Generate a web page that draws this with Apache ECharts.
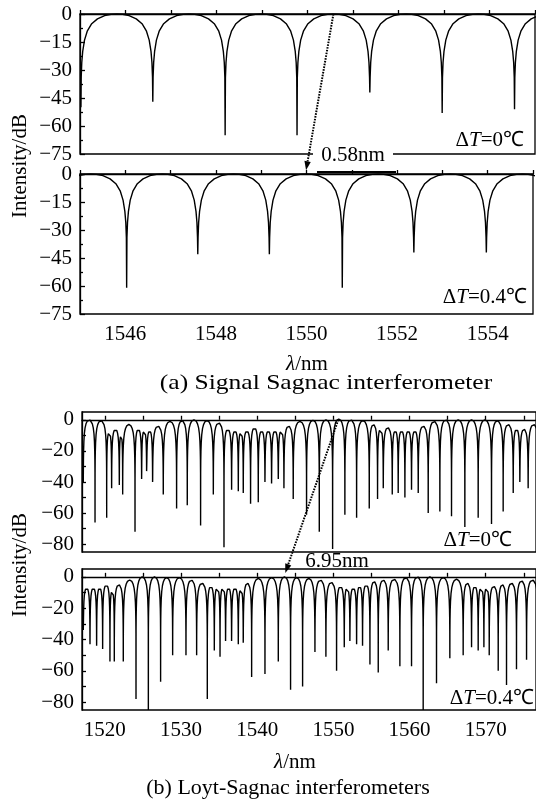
<!DOCTYPE html>
<html><head><meta charset="utf-8">
<script src="https://cdn.jsdelivr.net/npm/echarts@6/dist/echarts.min.js"></script>
<style>html,body{margin:0;padding:0;background:#fff}#c{width:536px;height:802px}</style>
</head><body><div id="c"></div><script>
// ---------- data ----------
// (a) single Sagnac, ΔT=0 : dip wavelengths (nm), dip depths (dB), lobe peak levels (dB)
const aTopDipNm = [1545.02, 1546.60, 1548.19, 1549.77, 1551.37, 1552.96, 1554.55, 1556.14];
const aTopDipDb = [-50, -47, -65, -65, -42, -53, -51, -45];
const aTopPeakDb = [0, 0, 0, 0, 0, 0, 0];
// (a) ΔT=0.4
const aBotDipNm = [1544.44, 1546.03, 1547.60, 1549.18, 1550.79, 1552.37, 1553.97, 1555.56];
const aBotDipDb = [-45, -61, -43, -43, -61, -42, -42, -45];
const aBotPeakDb = [0, 0, 0, 0, 0, 0, 0];
// (b) Lyot-Sagnac, ΔT=0
const bTopDipNm = [1517.17,1518.71,1520.24,1520.89,1521.90,1522.34,1523.96,1524.83,1525.49,1526.27,1527.67,1529.42,1530.82,1532.57,1534.24,1535.64,1536.64,1537.52,1538.17,1539.13,1540.14,1541.02,1541.89,1542.77,1543.51,1544.73,1546.48,1548.15,1549.90,1551.51,1553.05,1554.71,1555.80,1556.55,1557.73,1558.51,1559.39,1560.26,1561.14,1562.45,1563.98,1565.51,1567.26,1569.01,1570.76,1572.29,1573.61,1574.48,1575.57,1577.00];
const bTopDipDb = [-40,-66,-63,-44,-42,-48,-72,-38,-34,-40,-48,-57,-55,-68,-48,-82,-45,-46,-47,-54,-53,-40,-41,-38,-44,-51,-61,-72,-83,-61,-63,-57,-51,-44,-48,-47,-50,-45,-47,-60,-59,-62,-69,-63,-67,-59,-47,-41,-44,-45];
const bTopPeakDb = [0,-0.5,-8,-6,-10,-3,-6,-7,-7,-4,-1,-0.5,0,-0.5,-2,-6,-7,-8,-7,-5,-7,-7,-7,-7,-4,-1,-0.3,0,0.5,0,-0.5,-3,-6,-5,-7,-7,-7,-7,-4,-1,0,0,0,0,-0.5,-3,-6,-6,-3];
// (b) ΔT=0.4
const bBotDipNm = [1517.17,1518.05,1518.92,1519.71,1520.67,1521.24,1522.42,1524.09,1525.71,1527.32,1528.90,1530.65,1532.05,1533.45,1534.37,1535.12,1535.85,1536.64,1537.52,1538.17,1539.27,1541.02,1542.77,1544.38,1545.96,1547.58,1549.02,1550.42,1551.43,1552.17,1553.05,1553.83,1554.80,1555.89,1557.20,1558.73,1560.26,1561.79,1563.54,1565.29,1567.04,1568.14,1569.01,1569.76,1570.46,1571.64,1572.73,1574.04,1575.36,1576.90];
const bBotDipDb = [-34,-43,-44,-46,-54,-54,-54,-78,-85,-67,-50,-50,-50,-78,-47,-51,-42,-42,-43,-43,-64,-62,-54,-72,-70,-48,-51,-60,-45,-42,-43,-44,-56,-61,-47,-57,-57,-85,-68,-52,-50,-45,-47,-45,-50,-60,-69,-59,-53,-45];
const bBotPeakDb = [-7,-7,-7,-5,-9,-5,-2,0,0,-0.5,-0.5,-2,-4,-6,-7,-7,-7,-7,-8,-4,-1,-0.5,0,-0.5,-1,-2,-3.5,-6,-7,-7,-6,-5,-3,-2,-1.5,-0.5,0,0,-0.5,-1.5,-4,-6,-7,-7,-6,-5,-4,-2.5,-2];
// fringe flank shape: position as fraction of dip spacing, level below lobe peak (dB)
const flankFrac = [0.004, 0.012, 0.025, 0.05, 0.09, 0.15, 0.23, 0.33, 0.42, 0.5];
const flankDb   = [-34, -26, -20, -14, -9, -5.2, -2.6, -0.9, -0.2, 0];
// axis ticks
const aXLabels = [1546, 1548, 1550, 1552, 1554];
const bXTicks = [1520,1525,1530,1535,1540,1545,1550,1555,1560,1565,1570,1575];
const bXLabels = [1520,1530,1540,1550,1560,1570];
const bYTicks = [0,-10,-20,-30,-40,-50,-60,-70,-80];
const bYLabels = [0,-20,-40,-60,-80];
// annotations
const aShiftFrom = 1550.57, aShiftTo = 1549.99, aShiftText = '0.58nm';
const bShiftFrom = 1550.64, bShiftTo = 1543.69, bShiftText = '6.95nm';

// ---------- build ----------
function buildTrace(dipNm, dipDb, peakDb){
  const pts = [];
  const n = flankFrac.length;
  for (let i = 0; i < peakDb.length; i++){
    const a = dipNm[i], b = dipNm[i+1], w = b - a, p = peakDb[i];
    pts.push([a, dipDb[i]]);
    for (let k = 0; k < n; k++) pts.push([a + flankFrac[k]*w, Math.max(p + flankDb[k], dipDb[i])]);
    for (let k = n-2; k >= 0; k--) pts.push([b - flankFrac[k]*w, Math.max(p + flankDb[k], dipDb[i+1])]);
  }
  pts.push([dipNm[dipNm.length-1], dipDb[dipDb.length-1]]);
  return pts;
}
const FONT = '"Liberation Serif","Times New Roman",serif';
const FS = 21;
const minus = v => String(v).replace('-', '\u2212');
const lineStyleAx = {color:'#000', width:1.3};

function xAxisA(g, showLabel){
  return {type:'value', gridIndex:g, min:1545, max:1555, interval:1,
    axisLine:{lineStyle:lineStyleAx}, splitLine:{show:false},
    axisTick:{inside:true, length:4, lineStyle:lineStyleAx},
    axisLabel:{show:showLabel, margin:10, color:'#000', fontFamily:FONT, fontSize:FS,
      formatter: v => aXLabels.indexOf(v) >= 0 ? String(v) : ''}};
}
function yAxisA(g){
  return {type:'value', gridIndex:g, min:-75, max:0, interval:15,
    axisLine:{show:true, lineStyle:lineStyleAx}, splitLine:{show:false},
    axisTick:{inside:true, length:5, lineStyle:lineStyleAx},
    minorTick:{show:true, splitNumber:2, length:3, lineStyle:lineStyleAx},
    axisLabel:{margin:8, color:'#000', fontFamily:FONT, fontSize:FS, formatter: minus}};
}
function xAxisB(g, showLabel){
  return {type:'value', gridIndex:g, min:1517, max:1576.6,
    axisLine:{lineStyle:lineStyleAx}, splitLine:{show:false},
    axisTick:{inside:true, length:4, lineStyle:lineStyleAx, customValues:bXTicks},
    axisLabel:{show:showLabel, margin:10, color:'#000', fontFamily:FONT, fontSize:FS, customValues:bXLabels,
      formatter: v => String(v)}};
}
function yAxisB(g){
  return {type:'value', gridIndex:g, min:-85, max:5,
    axisLine:{show:true, lineStyle:lineStyleAx}, splitLine:{show:false},
    axisTick:{inside:true, length:4, lineStyle:lineStyleAx, customValues:bYTicks},
    axisLabel:{margin:8, color:'#000', fontFamily:FONT, fontSize:FS, customValues:bYLabels, formatter: minus}};
}
function ser(g, data){
  return {type:'line', xAxisIndex:g, yAxisIndex:g, data:data, showSymbol:false, symbol:'none',
    lineStyle:{color:'#000', width:1.4}, clip:true, animation:false, silent:true};
}
const gridStyle = {show:true, borderColor:'#000', borderWidth:1.3, backgroundColor:'transparent'};

const chart = echarts.init(document.getElementById('c'));
chart.setOption({
  animation:false,
  backgroundColor:'#fff',
  grid:[
    Object.assign({left:80, top:14, width:455, height:140}, gridStyle),
    Object.assign({left:80, top:174, width:455, height:140}, gridStyle),
    Object.assign({left:82, top:412, width:454, height:140}, gridStyle),
    Object.assign({left:82, top:569, width:454, height:141}, gridStyle)
  ],
  xAxis:[xAxisA(0,false), xAxisA(1,true), xAxisB(2,false), xAxisB(3,true)],
  yAxis:[yAxisA(0), yAxisA(1), yAxisB(2), yAxisB(3)],
  series:[
    ser(0, buildTrace(aTopDipNm, aTopDipDb, aTopPeakDb)),
    ser(1, buildTrace(aBotDipNm, aBotDipDb, aBotPeakDb)),
    ser(2, buildTrace(bTopDipNm, bTopDipDb, bTopPeakDb)),
    ser(3, buildTrace(bBotDipNm, bBotDipDb, bBotPeakDb))
  ]
});

const P = (g, x, y) => chart.convertToPixel({gridIndex:g}, [x, y]);
function arrow(p1, p2){
  const dx = p2[0]-p1[0], dy = p2[1]-p1[1], L = Math.hypot(dx, dy);
  const ux = dx/L, uy = dy/L, nx = -uy, ny = ux;
  const bx = p2[0]-ux*9, by = p2[1]-uy*9;
  return [
    {type:'line', shape:{x1:p1[0], y1:p1[1], x2:bx, y2:by}, style:{stroke:'#000', lineWidth:2, lineDash:[1.6,1.2]}, z:100},
    {type:'polygon', shape:{points:[[p2[0],p2[1]],[bx+nx*3.2,by+ny*3.2],[bx-nx*3.2,by-ny*3.2]]}, style:{fill:'#000'}, z:100}
  ];
}
function txt(x, y, text, align, extra){
  return Object.assign({type:'text', z:110, style:{x:x, y:y, text:text, font:FS+'px '+FONT, fill:'#000',
    textAlign:align||'center', textVerticalAlign:'middle'}}, extra||{});
}
function dT(x, y, val){
  return {type:'text', z:110, style:{x:x, y:y, text:'Δ{it|T}=' + val + '℃', textAlign:'right', textVerticalAlign:'middle',
    font:FS+'px '+FONT, fill:'#000', rich:{it:{fontStyle:'italic', fontFamily:FONT, fontSize:FS}}}};
}
function lam(x, y){
  return {type:'text', z:110, style:{x:x, y:y, text:'{it|λ}/nm', textAlign:'center', textVerticalAlign:'middle',
    font:FS+'px '+FONT, fill:'#000', rich:{it:{fontStyle:'italic', fontFamily:FONT, fontSize:FS}}}};
}
function caption(x, y, text, sx){
  return {type:'text', z:110, x:x, y:y, scaleX:sx, style:{x:0, y:0, text:text, font:'22px '+FONT, fill:'#000',
    textAlign:'center', textVerticalAlign:'middle'}};
}
const aFrom = P(0, aShiftFrom, 0), aTo = P(1, aShiftTo, 2);
const bFrom = P(2, bShiftFrom, 0), bTo = P(3, bShiftTo, 2.5);
const graphics = [].concat(
  arrow(aFrom, aTo),
  arrow(bFrom, bTo),
  [
    {type:'line', shape:{x1:317, y1:172, x2:396, y2:172}, style:{stroke:'#000', lineWidth:2}, z:90},
    txt(353, 155, aShiftText, 'center', {}),
    {type:'rect', shape:{x:313, y:150, width:80, height:8}, style:{fill:'#fff'}, z:105},
    txt(337, 561, bShiftText, 'center', {}),
    dT(524, 140, '0'),
    dT(527, 297, '0.4'),
    dT(512, 540, '0'),
    dT(534, 698, '0.4'),
    {type:'text', z:110, x:20, y:166, rotation:Math.PI/2, style:{x:0, y:0, text:'Intensity/dB', font:FS+'px '+FONT, fill:'#000', textAlign:'center', textVerticalAlign:'middle'}},
    {type:'text', z:110, x:20, y:565, rotation:Math.PI/2, style:{x:0, y:0, text:'Intensity/dB', font:FS+'px '+FONT, fill:'#000', textAlign:'center', textVerticalAlign:'middle'}},
    lam(307, 364),
    caption(326, 383, '(a) Signal Sagnac interferometer', 1.16),
    lam(295, 762),
    caption(288, 788, '(b) Loyt-Sagnac interferometers', 1.0)
  ]
);
chart.setOption({graphic: graphics});
</script></body></html>
